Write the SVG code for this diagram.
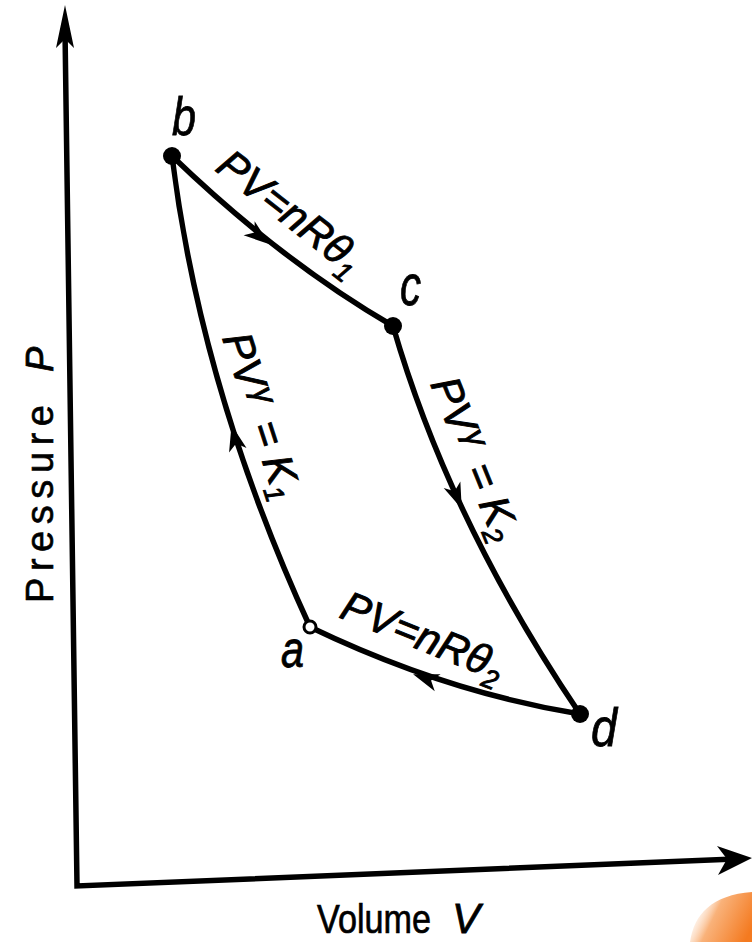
<svg xmlns="http://www.w3.org/2000/svg" xmlns:xlink="http://www.w3.org/1999/xlink" width="752" height="942" viewBox="0 0 752 942">
<style>
.ax{stroke:#000;stroke-width:5.5;fill:none;stroke-linecap:round}
.cv{stroke:#000;stroke-width:5.5;fill:none;stroke-linecap:round}
.lb{font-family:"Liberation Sans",Arial,sans-serif;font-style:italic;fill:#000;stroke:#000;stroke-width:0.8}
.eq{font-family:"Liberation Sans",Arial,sans-serif;font-style:italic;font-size:42px;fill:#000;stroke:#000;stroke-width:0.9}
.axl{font-family:"Liberation Sans",Arial,sans-serif;fill:#000;stroke:#000;stroke-width:0.6}
</style>
<defs>
<path id="ah" d="M2,0 L-24,-9 L-17,0 L-24,9 Z" fill="#000"/>
<linearGradient id="og" x1="0" y1="0.3" x2="1" y2="0.7">
<stop offset="0" stop-color="#ffffff" stop-opacity="0"/>
<stop offset="0.4" stop-color="#f9b27a"/>
<stop offset="1" stop-color="#f47a20"/>
</linearGradient>
</defs>
<rect width="752" height="942" fill="#fff"/>
<g id="axes">
<path class="ax" d="M65,30 L77,886 L735,859"/>
<path d="M65,5 L74,48 L65,39 L56,48 Z" fill="#000"/>
<path d="M752,858 L718,875 L727,859 L717,846 Z" fill="#000"/>
<text class="axl" font-size="38" transform="translate(53,603) rotate(-90)" textLength="198">Pressure</text>
<text class="lb" font-size="38" transform="translate(53,372) rotate(-90)">P</text>
<text class="axl" font-size="36" transform="translate(317,933) scale(1,1.15)" textLength="114" lengthAdjust="spacingAndGlyphs">Volume</text>
<text class="lb" font-size="42" x="452" y="933" textLength="28" lengthAdjust="spacingAndGlyphs">V</text>
</g>
<g id="connectors">
<path class="cv" d="M172,156 Q281,261 393,326"/>
<path class="cv" d="M393,326 Q449,520 580,714"/>
<path class="cv" d="M580,714 Q445,692 310,627"/>
<path class="cv" d="M310,627 Q201,390 172,156"/>
<use xlink:href="#ah" href="#ah" transform="translate(268,243) rotate(38)"/>
<use xlink:href="#ah" href="#ah" transform="translate(461,507) rotate(68)"/>
<use xlink:href="#ah" href="#ah" transform="translate(415,675) rotate(-161)"/>
<use xlink:href="#ah" href="#ah" transform="translate(232,427) rotate(-104)"/>
<text class="eq" transform="translate(214,170) rotate(38)">PV=nRθ<tspan font-size="27" dy="10">1</tspan></text>
<text class="eq" transform="translate(222,338) rotate(72)">PV<tspan font-size="32" dy="-12" dx="3">γ</tspan><tspan dy="12" dx="6"> = K</tspan><tspan font-size="27" dy="8">1</tspan></text>
<text class="eq" transform="translate(430,384) rotate(68)">PV<tspan font-size="32" dy="-12" dx="3">γ</tspan><tspan dy="12" dx="6"> = K</tspan><tspan font-size="27" dy="8">2</tspan></text>
<text class="eq" transform="translate(338,617) rotate(22)">PV=nRθ<tspan font-size="27" dy="10">2</tspan></text>
</g>
<g id="node-b">
<circle cx="172" cy="156" r="9" fill="#000"/>
<text class="lb" font-size="54" x="172" y="135" textLength="24" lengthAdjust="spacingAndGlyphs">b</text>
</g>
<g id="node-c">
<circle cx="393" cy="326" r="9" fill="#000"/>
<text class="lb" font-size="58" x="400" y="305" textLength="21" lengthAdjust="spacingAndGlyphs">c</text>
</g>
<g id="node-d">
<circle cx="580" cy="714" r="9" fill="#000"/>
<text class="lb" font-size="54" x="591" y="746" textLength="26" lengthAdjust="spacingAndGlyphs">d</text>
</g>
<g id="node-a">
<circle cx="310" cy="627" r="6" fill="#fff" stroke="#000" stroke-width="3"/>
<text class="lb" font-size="52" x="281" y="667" textLength="23" lengthAdjust="spacingAndGlyphs">a</text>
</g>
<path d="M690,942 C694,914 712,895 752,892 L752,942 Z" fill="url(#og)"/>
</svg>
